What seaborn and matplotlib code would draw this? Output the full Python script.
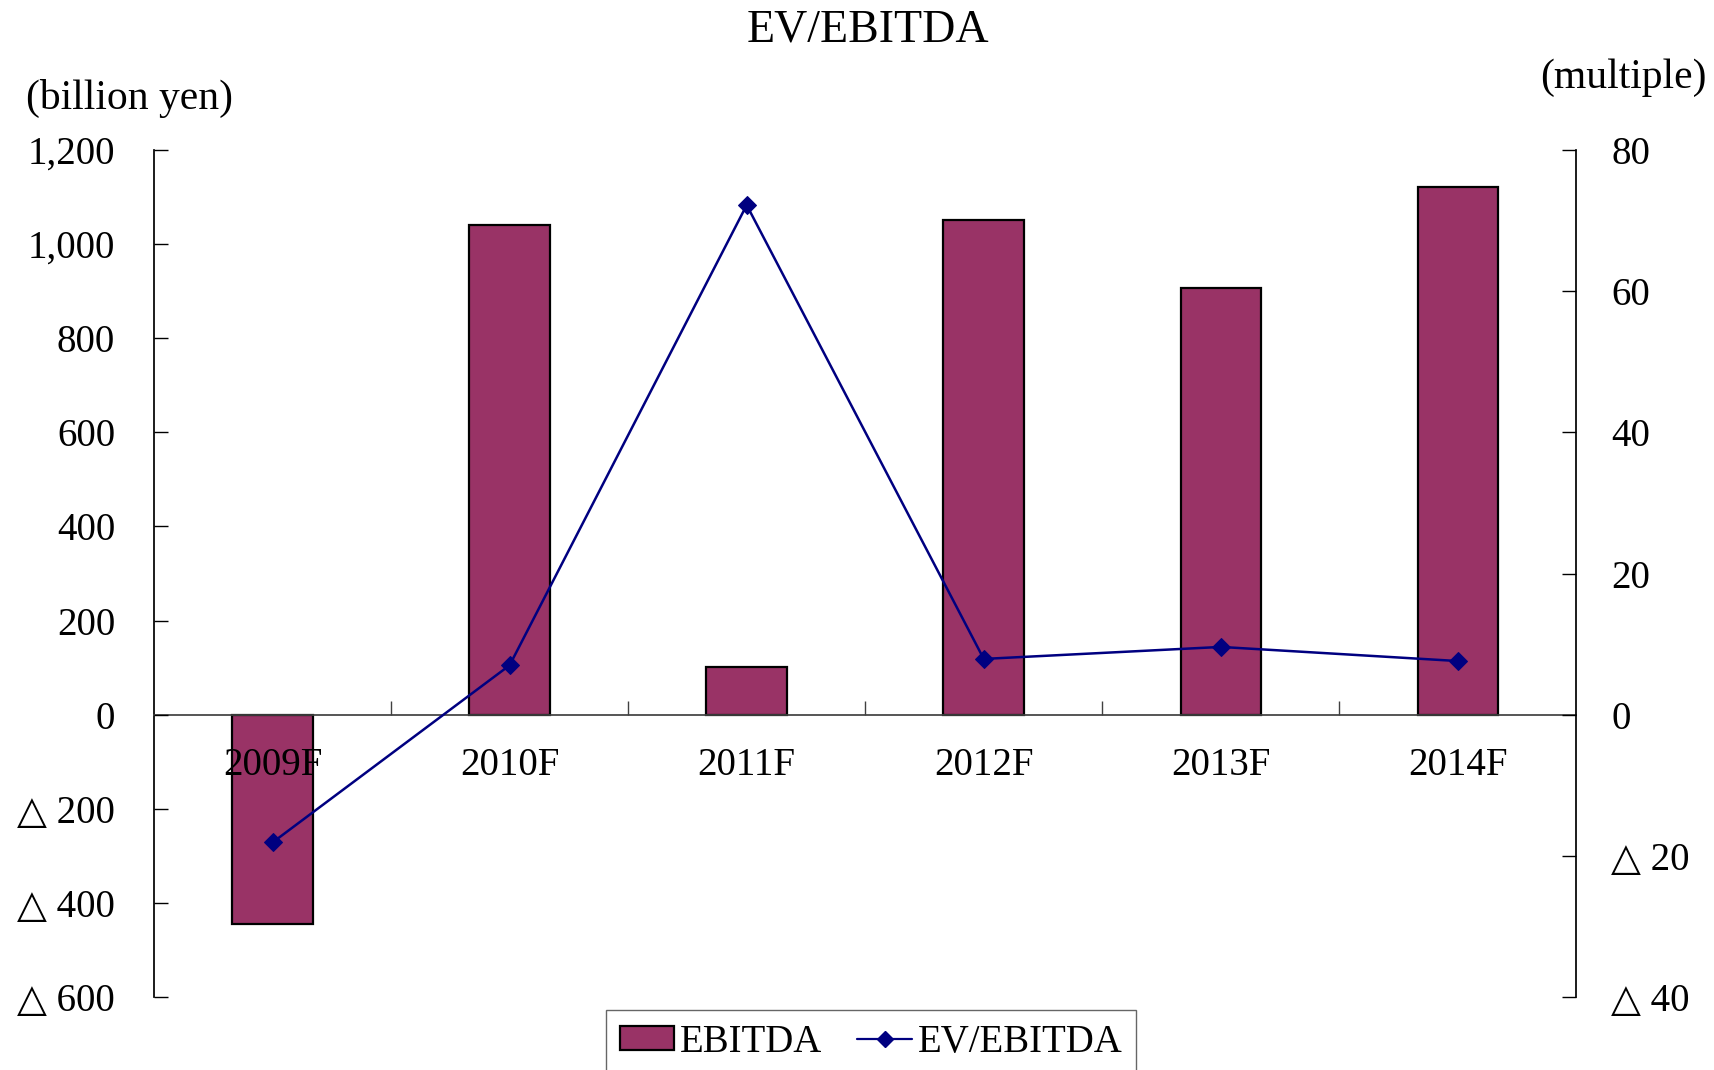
import matplotlib
matplotlib.use("Agg")
import matplotlib.pyplot as plt
import seaborn as sns
from matplotlib.ticker import FuncFormatter, FixedLocator
from matplotlib.patches import Patch
from matplotlib.lines import Line2D

years = ["2009F", "2010F", "2011F", "2012F", "2013F", "2014F"]
ebitda = [-445, 1040, 102, 1052, 906, 1122]       # billion yen
ev_ebitda = [-18.1, 7.0, 72.2, 7.9, 9.6, 7.6]     # multiple

left_ticks = [-600, -400, -200, 0, 200, 400, 600, 800, 1000, 1200]
right_ticks = [-40, -20, 0, 20, 40, 60, 80]

sns.set_theme(style="white")
plt.rcParams["font.family"] = ["Liberation Serif", "DejaVu Sans"]
plt.rcParams["text.color"] = "black"
plt.rcParams["xtick.color"] = "black"
plt.rcParams["ytick.color"] = "black"
plt.rcParams["axes.labelcolor"] = "black"

bar_color = "#993366"
line_color = "#000080"
fs = 28

fig = plt.figure(figsize=(17.15, 10.7), dpi=100)
ax = fig.add_axes([0.0898, 0.0682, 0.8294, 0.7916])

sns.barplot(x=years, y=ebitda, color=bar_color, saturation=1, width=0.34,
            edgecolor="black", linewidth=1.6, ax=ax)
ax.set_xlim(-0.5, len(years) - 0.5)
ax.set_ylim(-600, 1200)
ax.set_axisbelow(False)
ax.xaxis.set_zorder(3)

ax2 = ax.twinx()
sns.lineplot(x=list(range(len(years))), y=ev_ebitda, color=line_color, marker="D",
             markersize=9, markeredgecolor=line_color, linewidth=1.8, ax=ax2)
ax2.set_ylim(-40, 80)
ax2.set_xlim(-0.5, len(years) - 0.5)


def tri_fmt(v, pos):
    v = int(round(v))
    if v < 0:
        return "\u25b3 {:,}".format(-v)
    return "{:,}".format(v)


# left axis
ax.yaxis.set_major_locator(FixedLocator(left_ticks))
ax.yaxis.set_major_formatter(FuncFormatter(tri_fmt))
ax.tick_params(axis="y", direction="in", length=10, width=1, color="black",
               labelcolor="black", labelsize=fs, pad=28, left=True)
ax.set_ylabel("")
ax.set_xlabel("")

# x axis on the zero line, ticks between categories
ax.spines["bottom"].set_position(("data", 0))
ax.spines["bottom"].set_color("#404040")
ax.spines["left"].set_color("black")
ax.spines["top"].set_visible(False)
ax.spines["right"].set_visible(False)
ax.tick_params(axis="x", which="major", length=0, labelsize=fs, pad=23,
               labelcolor="black")
ax.xaxis.set_minor_locator(FixedLocator([0.5, 1.5, 2.5, 3.5, 4.5]))
ax.tick_params(axis="x", which="minor", direction="in", length=10, width=1,
               color="#404040", bottom=True)

# right axis
ax2.yaxis.set_major_locator(FixedLocator(right_ticks))
ax2.yaxis.set_major_formatter(FuncFormatter(tri_fmt))
ax2.tick_params(axis="y", direction="in", length=10, width=1, color="black",
                labelcolor="black", labelsize=fs, pad=25, right=True)
ax2.set_ylabel("")
for s in ["top", "bottom", "left"]:
    ax2.spines[s].set_visible(False)
ax2.spines["right"].set_color("black")

# labels
fig.text(0.506, 0.972, "EV/EBITDA", ha="center", va="center", fontsize=33)
fig.text(0.015, 0.908, "(billion yen)", ha="left", va="center", fontsize=30)
fig.text(0.995, 0.927, "(multiple)", ha="right", va="center", fontsize=30)

handles = [
    Patch(facecolor=bar_color, edgecolor="black", linewidth=1.6),
    Line2D([0], [0], color=line_color, marker="D", markersize=8, linewidth=1.6),
]
leg = fig.legend(handles, ["EBITDA", "EV/EBITDA"], loc="upper center",
                 bbox_to_anchor=(0.508, 0.056), ncol=2, fontsize=fs,
                 frameon=True, fancybox=False, edgecolor="#404040",
                 handlelength=1.4, handleheight=0.6, handletextpad=0.15,
                 columnspacing=0.9, borderpad=0.35, borderaxespad=0)
leg.get_frame().set_linewidth(1)

fig.savefig("out.png", dpi=100)
